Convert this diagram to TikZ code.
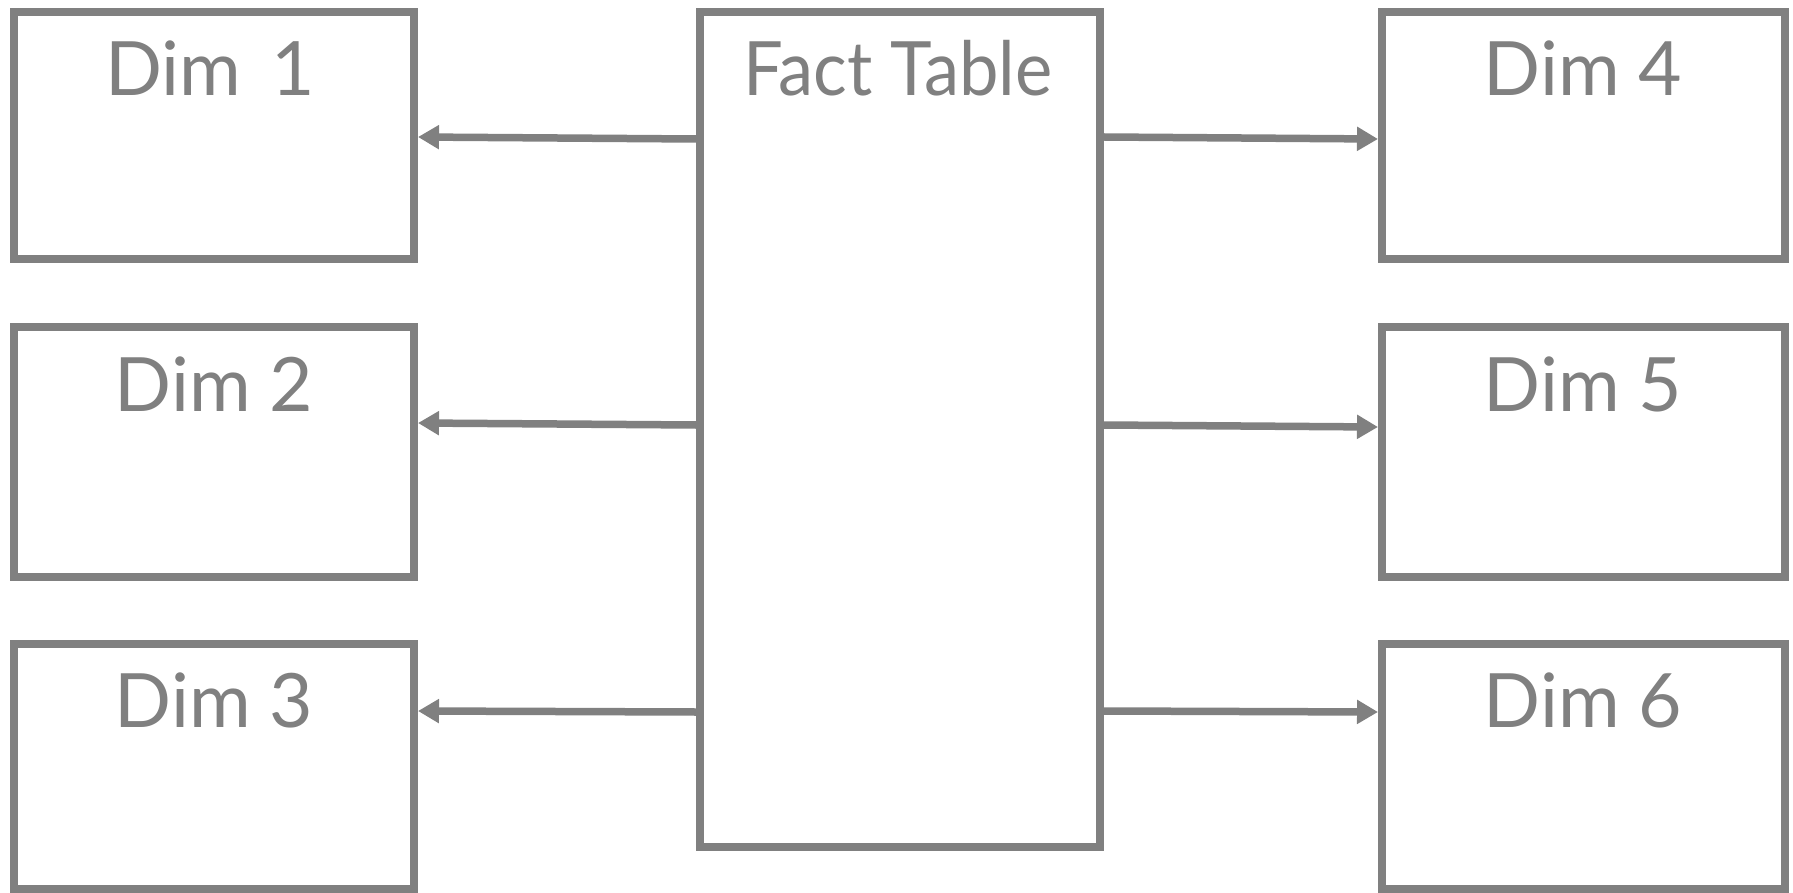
\documentclass[tikz,border=0pt]{standalone}
\usepackage{fontspec}
\setmainfont{Lato}
\usetikzlibrary{arrows.meta}
\definecolor{boxgray}{HTML}{808080}
\begin{document}
\begin{tikzpicture}[x=1pt,y=-1pt,
  dimbox/.style={draw=boxgray, line width=8pt, fill=white, minimum width=#1, inner sep=0pt, rectangle},
  lbl/.style={text=boxgray, font=\fontsize{75}{80}\selectfont, anchor=base, inner sep=0pt},
  conn/.style={draw=boxgray, line width=7.5pt, -{Triangle[length=21pt 0,width=23pt 0]}}]
\useasboundingbox[fill=white] (0,0) rectangle (1793,893);
% boxes
\node[dimbox=400pt, minimum height=247pt] (d1) at (214,135.5) {};
\node[dimbox=400pt, minimum height=250pt] (d2) at (214,452) {};
\node[dimbox=400pt, minimum height=245pt] (d3) at (214,766.5) {};
\node[dimbox=400pt, minimum height=835pt] (f) at (900,429.5) {};
\node[dimbox=403pt, minimum height=247pt] (d4) at (1583.5,135.5) {};
\node[dimbox=403pt, minimum height=250pt] (d5) at (1583.5,452) {};
\node[dimbox=403pt, minimum height=245pt] (d6) at (1583.5,766.5) {};
% labels
\node[lbl] (t1) at (210,96) {Dim\hspace{30pt}1};
\node[lbl] (t2) at (214,411) {Dim 2};
\node[lbl] (t3) at (214,727) {Dim 3};
\node[lbl, font=\fontsize{75}{80}\selectfont\addfontfeature{FakeStretch=0.94}] (tf) at (898,96) {Fact Table};
\node[lbl] (t4) at (1583,96) {Dim 4};
\node[lbl] (t5) at (1583,411) {Dim 5};
\node[lbl] (t6) at (1583,727) {Dim 6};
% connectors
\draw[conn] (f.west |- 0,139) -- (d1.east |- 0,137);
\draw[conn] (f.west |- 0,425) -- (d2.east |- 0,423);
\draw[conn] (f.west |- 0,712) -- (d3.east |- 0,711);
\draw[conn] (f.east |- 0,137) -- (d4.west |- 0,139);
\draw[conn] (f.east |- 0,425) -- (d5.west |- 0,427);
\draw[conn] (f.east |- 0,711) -- (d6.west |- 0,712);
\end{tikzpicture}
\end{document}
